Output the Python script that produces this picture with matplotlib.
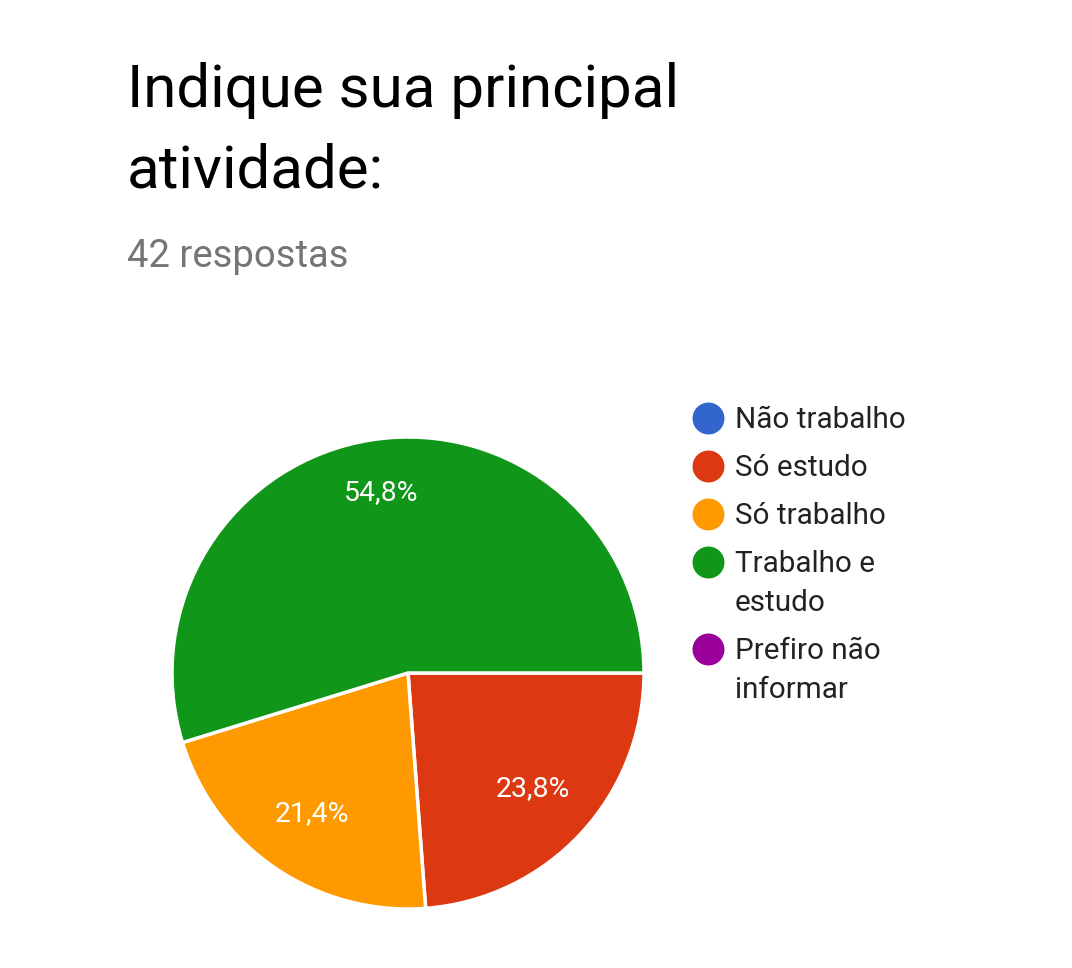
import matplotlib
matplotlib.use('Agg')
import numpy as np
import matplotlib.pyplot as plt

plt.rcParams['font.family'] = ['Roboto', 'DejaVu Sans']

# dados do grafico
categorias = ['Não trabalho', 'Só estudo', 'Só trabalho', 'Trabalho e\nestudo', 'Prefiro não\ninformar']
respostas = [0, 10, 9, 23, 0]
cores = ['#3366CC', '#DC3912', '#FF9900', '#109618', '#990099']
total = sum(respostas)

W, H = 1072, 968
fig = plt.figure(figsize=(W / 100, H / 100), dpi=100)

# titulo e subtitulo
fig.text(127 / W, 1 - 107 / H, 'Indique sua principal', fontsize=43.2, color='black', va='baseline')
fig.text(127 / W, 1 - 188 / H, 'atividade:', fontsize=43.2, color='black', va='baseline')
fig.text(127 / W, 1 - 267 / H, f'{total} respostas', fontsize=27.5, color='#757575', va='baseline')

# pizza (so as fatias com valor > 0)
cx, cy, r = 408, 673, 236
ax = fig.add_axes([(cx - r) / W, (H - cy - r) / H, 2 * r / W, 2 * r / H])
vals = [v for v in respostas if v > 0]
cols = [c for v, c in zip(respostas, cores) if v > 0]
wedges, texts, autotexts = ax.pie(
    vals, colors=cols, startangle=0, counterclock=False,
    autopct=lambda p: f'{p:.1f}%'.replace('.', ','), pctdistance=0.74,
    wedgeprops=dict(edgecolor='white', linewidth=2.5),
    textprops=dict(color='white', fontsize=20.5))
# distancia do rotulo por fatia (fatias menores ficam um pouco mais pra dentro)
for w, t in zip(wedges, autotexts):
    ang = np.deg2rad((w.theta1 + w.theta2) / 2)
    d = 0.775 if (w.theta2 - w.theta1) > 180 else 0.72
    t.set_position((d * np.cos(ang), d * np.sin(ang)))
ax.set_xlim(-1, 1)
ax.set_ylim(-1, 1)
ax.set_aspect('equal')
ax.axis('off')

# legenda
y = 418
for cat, cor in zip(categorias, cores):
    fig.add_artist(plt.Line2D([708 / W], [1 - y / H], marker='o', markersize=22,
                              color=cor, linestyle='none', transform=fig.transFigure))
    for i, linha in enumerate(cat.split('\n')):
        fig.text(735 / W, 1 - (y + 10 + i * 39) / H, linha, fontsize=21.3,
                 color='#222222', va='baseline')
    y += 48 + 39 * cat.count('\n')

plt.savefig('out.png', dpi=100, facecolor='white')
